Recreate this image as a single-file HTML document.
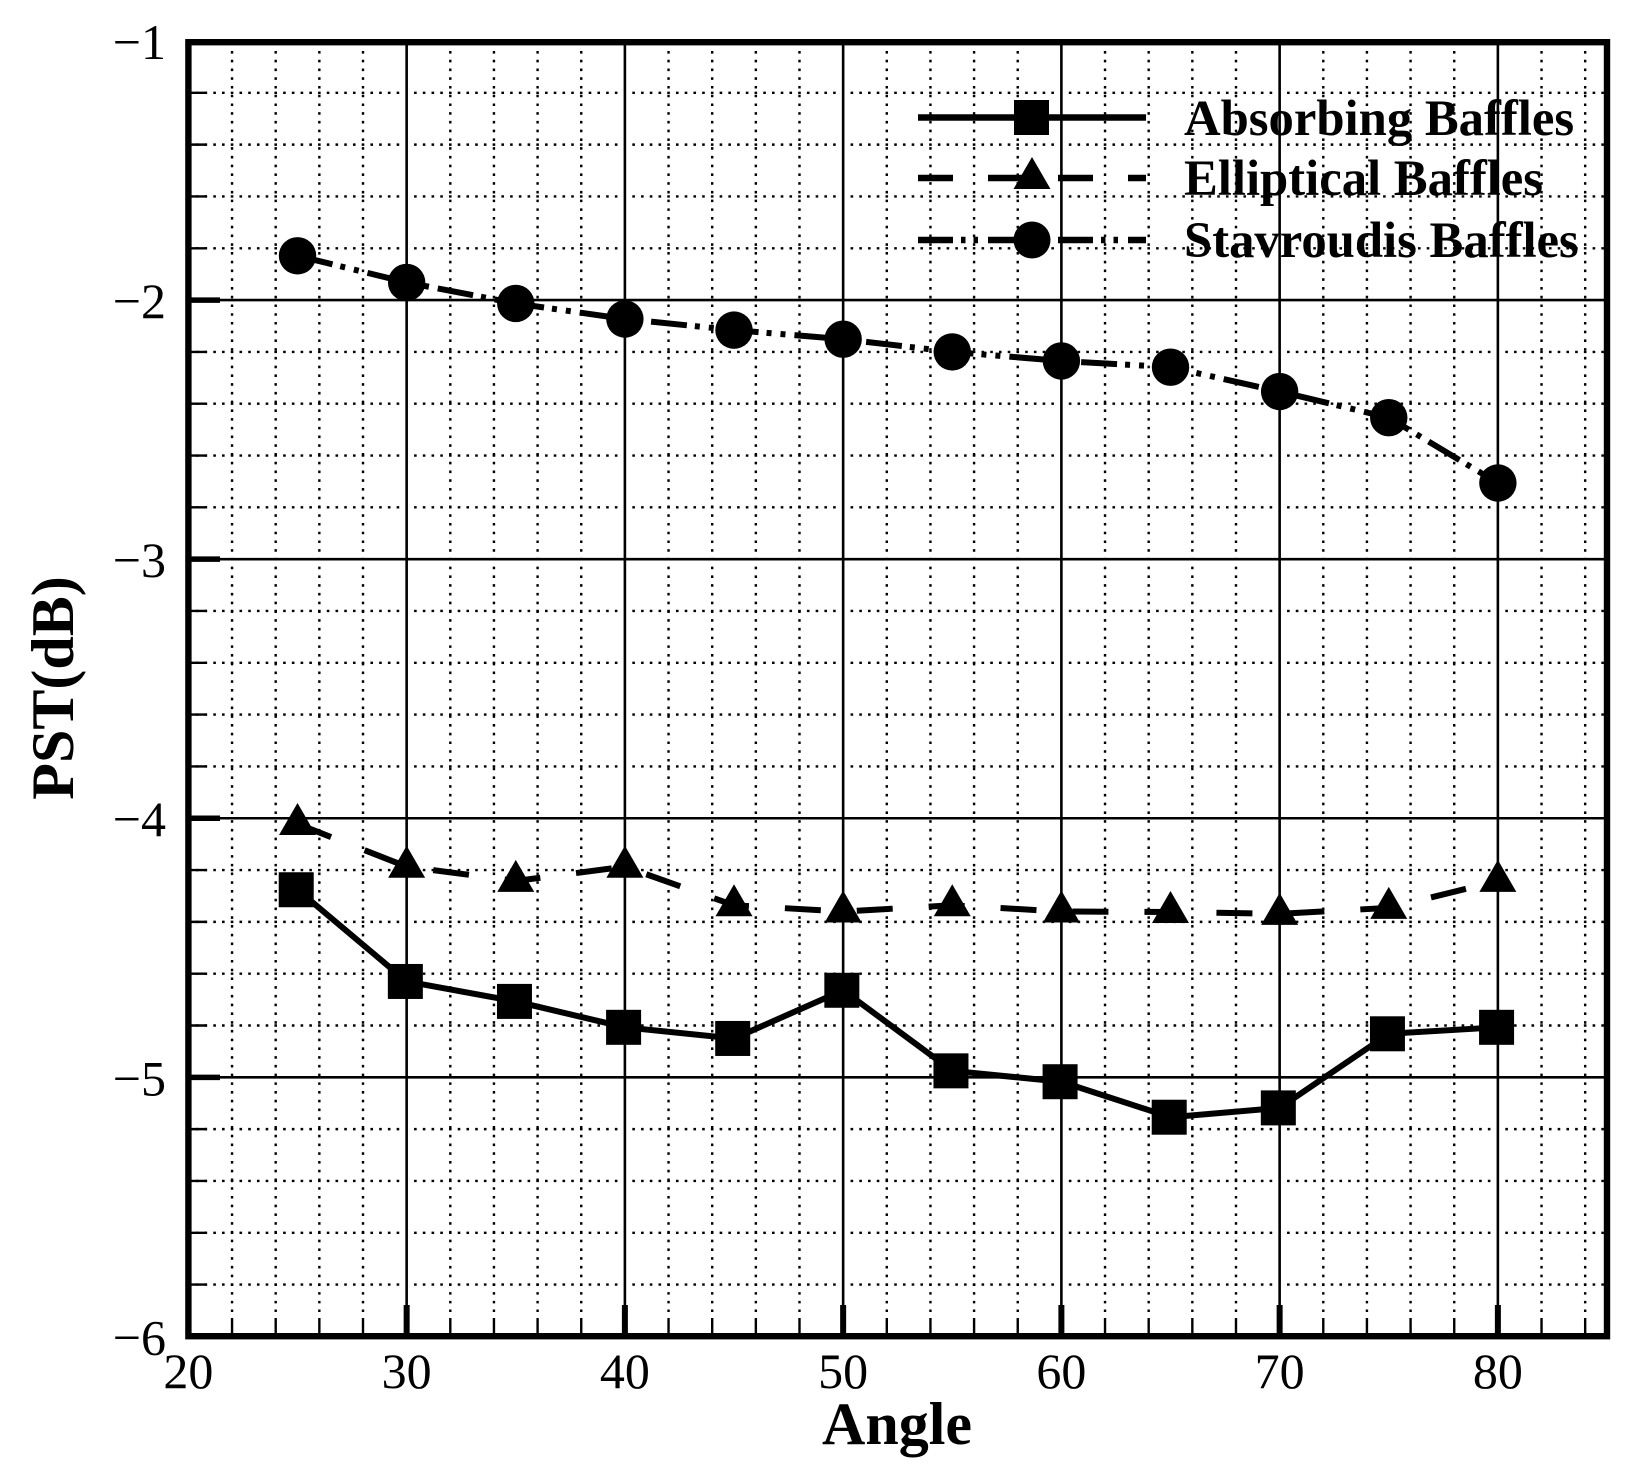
<!DOCTYPE html>
<html lang="en">
<head>
<meta charset="utf-8">
<title>PST vs Angle</title>
<style>
html,body{margin:0;padding:0;background:#fff;}
svg{display:block;}
text{font-family:"Liberation Serif",serif;fill:#000;}
</style>
</head>
<body>
<svg id="chart" xmlns="http://www.w3.org/2000/svg" width="1636" height="1475" viewBox="0 0 1636 1475">
  <rect x="0" y="0" width="1636" height="1475" fill="#fff"/>
  <g id="grid"></g>
  <g id="ticks"></g>
  <g id="series"></g>
  <rect x="188.4" y="42.2" width="1418.6" height="1294" fill="none" stroke="#000" stroke-width="6.4"/>
  <g id="tick-labels"></g>
  <text transform="translate(73,688) rotate(-90)" text-anchor="middle" font-size="60" font-weight="bold">PST(dB)</text>
  <text x="897" y="1444" text-anchor="middle" font-size="60" font-weight="bold">Angle</text>
  <g>
    <g>
      <line x1="918" y1="117.5" x2="1146" y2="117.5" stroke="#000" stroke-width="6.5"/>
      <rect x="1014" y="100" width="35" height="35" fill="#000"/>
      <text x="1184" y="135" font-size="50.7" font-weight="bold">Absorbing Baffles</text>
    </g>
    <g>
      <line x1="918" y1="178" x2="1146" y2="178" stroke="#000" stroke-width="6.5" stroke-dasharray="35 35"/>
      <polygon points="1032,157 1050.5,189 1013.5,189" fill="#000"/>
      <text x="1184" y="195" font-size="50.7" font-weight="bold">Elliptical Baffles</text>
    </g>
    <g>
      <line x1="918" y1="240" x2="1146" y2="240" stroke="#000" stroke-width="6.5" stroke-dasharray="35 8 4.5 8 4.5 10"/>
      <circle cx="1032" cy="240" r="18.5" fill="#000"/>
      <text x="1184" y="257" font-size="50.7" font-weight="bold">Stavroudis Baffles</text>
    </g>
  </g>
</svg>
<script>
var angles = [25, 30, 35, 40, 45, 50, 55, 60, 65, 70, 75, 80];
var absorbingPst = [-4.276, -4.63, -4.707, -4.807, -4.85, -4.664, -4.975, -5.017, -5.154, -5.118, -4.832, -4.807];
var ellipticalPst = [-4.022, -4.187, -4.242, -4.187, -4.336, -4.36, -4.336, -4.36, -4.362, -4.369, -4.346, -4.242];
var stavroudisPst = [-1.829, -1.932, -2.013, -2.073, -2.116, -2.151, -2.2, -2.235, -2.259, -2.353, -2.454, -2.706];
var xTickValues = [20, 30, 40, 50, 60, 70, 80];
var yTickValues = [-1, -2, -3, -4, -5, -6];
var xLimits = [20, 85];
var yLimits = [-1, -6];

var NS = 'http://www.w3.org/2000/svg';
var plotLeft = 188.4, plotRight = 1607, plotTop = 41, plotBottom = 1336.4;
function xScale(v) { return plotLeft + (v - xLimits[0]) / (xLimits[1] - xLimits[0]) * (plotRight - plotLeft); }
function yScale(v) { return plotTop + (yLimits[0] - v) / (yLimits[0] - yLimits[1]) * (plotBottom - plotTop); }
function node(tag, parent, attrs) {
  var el = document.createElementNS(NS, tag);
  for (var k in attrs) { el.setAttribute(k, attrs[k]); }
  parent.appendChild(el);
  return el;
}
function rule(parent, x1, y1, x2, y2, width, dash) {
  var attrs = { x1: x1, y1: y1, x2: x2, y2: y2, stroke: '#000', 'stroke-width': width };
  if (dash) { attrs['stroke-dasharray'] = dash; }
  return node('line', parent, attrs);
}

var gridGroup = document.getElementById('grid');
var tickGroup = document.getElementById('ticks');
var seriesGroup = document.getElementById('series');
var labelGroup = document.getElementById('tick-labels');
var dotPeriod = 8.73;

/* minor vertical dotted grid and minor x ticks */
for (var xm = xLimits[0] + 2; xm < xLimits[1]; xm += 2) {
  if (xm % 10 === 0) { continue; }
  var vDots = rule(gridGroup, xScale(xm), 51, xScale(xm), 1312, 2.4, '2.6 6.14');
  
  
  var xMinorTick = rule(tickGroup, xScale(xm), 1318, xScale(xm), 1336, 2.4);
  
  
}

/* minor horizontal dotted grid and minor y ticks */
for (var ym = 1; ym <= 25; ym++) {
  if (ym % 5 === 0) { continue; }
  var yMinor = yLimits[0] - ym * 0.2;
  var yPix = yScale(yMinor);
  for (var xi = 0; xi < xTickValues.length; xi++) {
    var startX = xScale(xTickValues[xi]);
    var endX = Math.min(startX + 24 * dotPeriod + 1.3, plotRight - 3);
    var hDots = rule(gridGroup, startX + dotPeriod - 1.3, yPix, endX, yPix, 2.4, '2.6 6.13');
    
    
  }
  var yMinorTick = rule(tickGroup, plotLeft, yPix, 207, yPix, 2.4);
  
  
}

/* major grid, major ticks, tick labels */
xTickValues.forEach(function (v) {
  if (v !== xLimits[0]) {
    var gl = rule(gridGroup, xScale(v), plotTop, xScale(v), plotBottom, 2.6);
    
    
    var tk = rule(tickGroup, xScale(v), 1305, xScale(v), plotBottom, 6);
    
    
  }
  var lb = node('text', labelGroup, { x: xScale(v), y: 1388, 'text-anchor': 'middle', 'font-size': 50 });
  lb.textContent = String(v);
  
  
});
yTickValues.forEach(function (v) {
  if (v !== yLimits[0] && v !== yLimits[1]) {
    var gl = rule(gridGroup, plotLeft, yScale(v), plotRight, yScale(v), 2.6);
    
    
    var tk = rule(tickGroup, plotLeft, yScale(v), 220, yScale(v), 5.5);
    
    
  }
  var lb = node('text', labelGroup, { x: 166, y: yScale(v) + 18, 'text-anchor': 'end', 'font-size': 50 });
  lb.textContent = '\u2212' + Math.abs(v);
  
  
});

/* series */
function seriesPoints(values) {
  return values.map(function (v, i) { return xScale(angles[i]) + ',' + yScale(v); }).join(' ');
}
var absorbingLine = node('polyline', seriesGroup, { points: seriesPoints(absorbingPst), fill: 'none', stroke: '#000', 'stroke-width': 6, 'stroke-linejoin': 'round' });


var ellipticalLine = node('polyline', seriesGroup, { points: seriesPoints(ellipticalPst), fill: 'none', stroke: '#000', 'stroke-width': 6, 'stroke-dasharray': '36 36' });


var stavroudisLine = node('polyline', seriesGroup, { points: seriesPoints(stavroudisPst), fill: 'none', stroke: '#000', 'stroke-width': 6, 'stroke-dasharray': '36 8 5 9 5 9' });



absorbingPst.forEach(function (v, i) {
  var m = node('rect', seriesGroup, { x: xScale(angles[i]) - 18.8, y: yScale(v) - 17.5, width: 35, height: 35, fill: '#000' });
  
  
});
ellipticalPst.forEach(function (v, i) {
  var cx = xScale(angles[i]), cy = yScale(v);
  var m = node('polygon', seriesGroup, { points: cx + ',' + (cy - 21) + ' ' + (cx + 18.5) + ',' + (cy + 11) + ' ' + (cx - 18.5) + ',' + (cy + 11), fill: '#000' });
  
  
});
stavroudisPst.forEach(function (v, i) {
  var m = node('circle', seriesGroup, { cx: xScale(angles[i]), cy: yScale(v), r: 18.7, fill: '#000' });
  
  
});
</script>
</body>
</html>
